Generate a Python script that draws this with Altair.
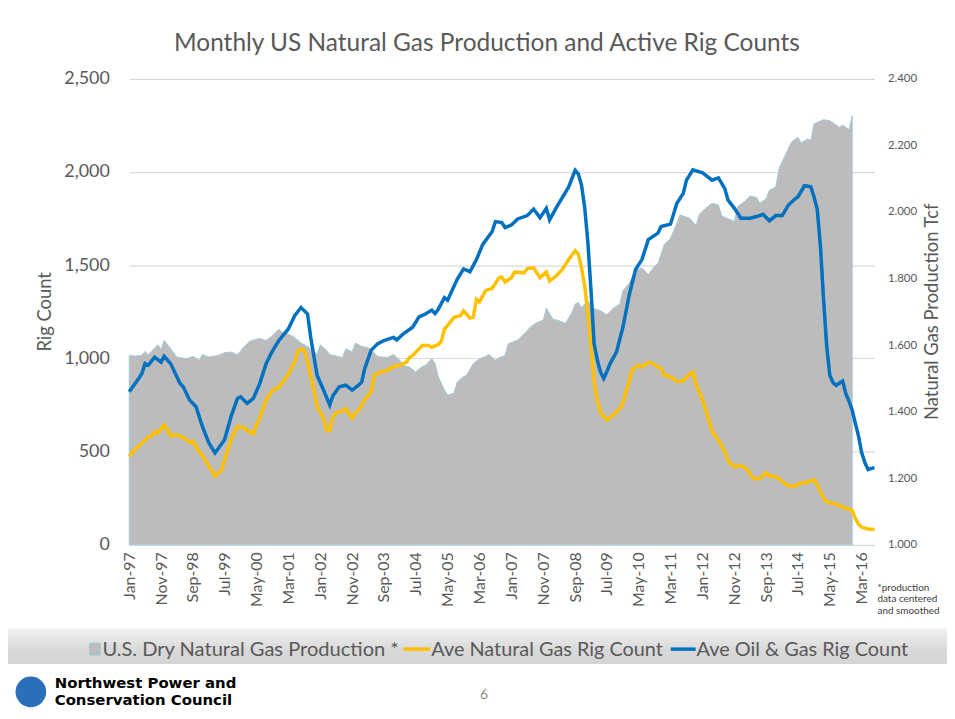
import altair as alt
import pandas as pd

TITLE = "Monthly US Natural Gas Production and Active Rig Counts"
SERIES = ["U.S. Dry Natural Gas Production *", "Ave Natural Gas Rig Count", "Ave Oil & Gas Rig Count"]
FOOTNOTE = ["*production", "data centered", "and smoothed"]
LEFT_TITLE = "Rig Count"
RIGHT_TITLE = "Natural Gas Production Tcf"
LOGO_LINES = ["Northwest Power and", "Conservation Council"]
PAGE_NO = "6"

# month index: 0 = Jan-1997
OG_MONTHS = [0, 3, 4, 5, 6, 8, 10, 11, 13, 16, 17, 19, 21, 23, 25, 27, 30, 32, 34, 35, 37, 39, 41, 43, 45, 47,
             50, 52, 54, 56, 57, 59, 61, 63, 64, 66, 68, 70, 72, 73, 74, 76, 78, 80, 83, 84, 86, 89, 91, 93, 95,
             96, 97, 99, 100, 103, 105, 107, 109, 111, 114, 115, 117, 118, 120, 122, 125, 127, 129, 131, 132,
             134, 138, 140, 141, 142, 143, 144, 145, 146, 147, 148, 149, 150, 151, 153, 155, 157, 159, 161, 163,
             166, 167, 170, 172, 174, 175, 177, 180, 183, 185, 187, 188, 190, 192, 195, 197, 199, 201, 203, 205,
             207, 209, 210, 212, 214, 215, 216, 217, 218, 219, 220, 221, 222, 224, 225, 226, 227, 228, 229, 230,
             231, 232, 233, 234]
OG_RIGS = [821, 892, 918, 972, 963, 1007, 980, 1011, 972, 865, 848, 777, 741, 635, 546, 493, 564, 688, 785, 794,
           759, 785, 865, 972, 1040, 1096, 1158, 1229, 1273, 1238, 1113, 910, 830, 750, 800, 848, 856, 830, 856,
           874, 945, 1043, 1078, 1096, 1113, 1099, 1131, 1167, 1223, 1238, 1259, 1241, 1264, 1326, 1312, 1424,
           1480, 1465, 1530, 1610, 1681, 1734, 1729, 1702, 1716, 1748, 1766, 1801, 1755, 1805, 1743, 1805, 1920,
           2009, 1990, 1929, 1810, 1620, 1350, 1080, 990, 927, 892, 930, 972, 1034, 1167, 1344, 1477, 1530, 1637,
           1672, 1707, 1720, 1832, 1885, 1956, 2012, 1996, 1956, 1968, 1911, 1849, 1805, 1752, 1752, 1761, 1773,
           1738, 1766, 1766, 1823, 1855, 1867, 1926, 1920, 1867, 1800, 1600, 1330, 1070, 910, 870, 856, 879, 810,
           770, 723, 650, 580, 493, 440, 404, 410, 413]

GAS_MONTHS = [0, 2, 4, 6, 7, 8, 9, 11, 13, 15, 17, 19, 20, 22, 23, 25, 27, 29, 31, 32, 34, 36, 37, 39, 40, 41, 43,
              45, 47, 49, 50, 52, 53, 54, 55, 56, 58, 59, 61, 62, 63, 64, 65, 67, 68, 70, 71, 72, 74, 76, 77, 79,
              81, 83, 85, 87, 88, 89, 91, 92, 94, 95, 97, 98, 99, 100, 102, 104, 105, 107, 108, 109, 110, 112, 114,
              116, 117, 118, 120, 121, 124, 125, 127, 129, 131, 132, 134, 136, 138, 140, 141, 142, 143, 144, 145,
              146, 147, 148, 149, 150, 152, 154, 155, 157, 158, 160, 161, 163, 165, 167, 168, 170, 172, 174, 175,
              177, 178, 180, 182, 183, 185, 187, 188, 190, 192, 194, 196, 198, 200, 201, 203, 205, 207, 209, 211,
              213, 215, 216, 218, 219, 222, 225, 227, 228, 229, 230, 232, 234]
GAS_RIGS = [475, 514, 543, 578, 582, 608, 599, 644, 585, 590, 576, 550, 555, 496, 479, 422, 369, 400, 510, 564, 635,
            629, 613, 596, 644, 679, 777, 830, 845, 892, 915, 980, 1040, 1051, 1043, 980, 830, 741, 680, 617, 612,
            688, 706, 720, 729, 679, 709, 720, 777, 820, 910, 927, 936, 957, 963, 980, 1004, 1016, 1051, 1069, 1069,
            1060, 1075, 1090, 1158, 1176, 1220, 1229, 1255, 1216, 1220, 1317, 1303, 1365, 1376, 1430, 1436, 1410,
            1433, 1463, 1459, 1482, 1486, 1433, 1463, 1415, 1441, 1477, 1530, 1578, 1560, 1486, 1390, 1240, 1060,
            870, 770, 710, 688, 670, 697, 732, 759, 883, 940, 963, 954, 980, 966, 945, 910, 901, 878, 879, 901, 927,
            860, 777, 670, 608, 560, 500, 449, 418, 426, 404, 355, 355, 387, 369, 365, 340, 316, 316, 330, 337, 348,
            320, 254, 230, 218, 195, 186, 140, 110, 94, 85, 82]

PROD_MONTHS = [0, 2, 4, 5, 6, 9, 10, 11, 13, 15, 18, 20, 22, 23, 25, 28, 30, 32, 34, 36, 38, 41, 43, 45, 47, 48,
               50, 52, 54, 56, 58, 59, 60, 62, 63, 65, 67, 68, 70, 71, 73, 75, 76, 78, 81, 83, 85, 86, 88, 90, 92,
               93, 95, 96, 97, 99, 100, 102, 103, 105, 106, 108, 110, 112, 113, 115, 116, 118, 119, 122, 124, 126,
               128, 130, 131, 133, 135, 137, 139, 140, 141, 142, 144, 145, 148, 150, 152, 154, 155, 157, 159, 161,
               163, 165, 166, 168, 170, 172, 173, 176, 178, 179, 181, 183, 185, 186, 187, 189, 190, 191, 193, 195,
               197, 198, 200, 201, 203, 204, 206, 208, 210, 211, 213, 214, 215, 218, 220, 222, 223, 224, 226, 227]
PROD_TCF = [1.569, 1.567, 1.569, 1.581, 1.571, 1.601, 1.586, 1.614, 1.589, 1.564, 1.559, 1.566, 1.554, 1.572, 1.564,
            1.569, 1.577, 1.579, 1.571, 1.594, 1.612, 1.620, 1.614, 1.628, 1.648, 1.638, 1.633, 1.623, 1.606, 1.596,
            1.580, 1.574, 1.601, 1.584, 1.572, 1.567, 1.562, 1.589, 1.579, 1.606, 1.596, 1.592, 1.586, 1.566, 1.562,
            1.572, 1.554, 1.539, 1.534, 1.519, 1.536, 1.539, 1.559, 1.544, 1.505, 1.465, 1.450, 1.455, 1.489, 1.505,
            1.510, 1.544, 1.559, 1.566, 1.572, 1.554, 1.562, 1.569, 1.604, 1.615, 1.633, 1.654, 1.668, 1.675, 1.711,
            1.678, 1.673, 1.665, 1.698, 1.723, 1.728, 1.713, 1.733, 1.713, 1.703, 1.691, 1.711, 1.723, 1.763, 1.787,
            1.824, 1.832, 1.812, 1.837, 1.844, 1.902, 1.921, 1.966, 1.991, 1.981, 1.959, 1.993, 2.011, 2.026, 2.021,
            1.989, 1.983, 1.976, 1.971, 2.016, 2.030, 2.048, 2.043, 2.026, 2.040, 2.065, 2.075, 2.130, 2.170, 2.210,
            2.224, 2.207, 2.219, 2.215, 2.264, 2.277, 2.274, 2.261, 2.254, 2.261, 2.247, 2.289]

TICK_MONTHS = list(range(0, 231, 10))  # Jan-97, Nov-97, ... Mar-16
RIG_TICKS = [0, 500, 1000, 1500, 2000, 2500]
TCF_TICKS = [1.0, 1.2, 1.4, 1.6, 1.8, 2.0, 2.2, 2.4]


def month_date(m):
    return f"{1997 + m // 12}-{m % 12 + 1:02d}-01T00:00:00"


def month_dt(m):
    return alt.DateTime(year=1997 + m // 12, month=m % 12 + 1, date=1)


prod_df = pd.DataFrame({"date": [month_date(m) for m in PROD_MONTHS], "tcf": PROD_TCF})
rig_df = pd.concat([
    pd.DataFrame({"date": [month_date(m) for m in GAS_MONTHS], "rigs": GAS_RIGS, "series": SERIES[1]}),
    pd.DataFrame({"date": [month_date(m) for m in OG_MONTHS], "rigs": OG_RIGS, "series": SERIES[2]}),
])
one = pd.DataFrame({"k": [0]})

FONT = "Lato"
TXT = "#595959"
GREY = "#bcbcbc"
EDGE = "#9fcbd8"
YELLOW = "#ffc000"
BLUE = "#0070c0"

x_enc = alt.X(
    "date:T",
    title=None,
    scale=alt.Scale(domain=[month_dt(0), month_dt(234)]),
    axis=alt.Axis(values=[month_dt(m) for m in TICK_MONTHS], format="%b-%y", labelAngle=270,
                  labelFont=FONT, labelFontSize=16, labelColor=TXT, labelPadding=7,
                  ticks=False, domain=False, grid=False, labelOverlap=False),
)

area = alt.Chart(prod_df).mark_area(fill=GREY, stroke=EDGE, strokeWidth=1, fillOpacity=1).encode(
    x=x_enc,
    y=alt.Y("tcf:Q", scale=alt.Scale(domain=[1.0, 2.4], zero=False, nice=False),
            axis=alt.Axis(orient="right", values=TCF_TICKS, format=".3f", grid=False, ticks=False, domain=False,
                          labelFont=FONT, labelFontSize=11.5, labelColor=TXT, labelPadding=13,
                          title=RIGHT_TITLE, titleAngle=270, titleFont=FONT, titleFontSize=18.5,
                          titleFontWeight="normal", titleColor=TXT, titleX=57, titleY=234,
                          titleAlign="center", titleBaseline="middle")),
    y2=alt.datum(1.0),
)

lines = alt.Chart(rig_df).mark_line(strokeWidth=3.5).encode(
    x=x_enc,
    y=alt.Y("rigs:Q", scale=alt.Scale(domain=[0, 2500], nice=False),
            axis=alt.Axis(orient="left", values=RIG_TICKS, format=",d", grid=True, gridColor="#d9d9d9",
                          gridWidth=1.2, ticks=False, domain=False, labelFont=FONT, labelFontSize=18,
                          labelColor=TXT, labelPadding=20, title=LEFT_TITLE, titleFont=FONT, titleFontSize=18.5,
                          titleFontWeight="normal", titleColor=TXT, titleX=-85, titleY=234,
                          titleAlign="center", titleBaseline="middle", titleAngle=270)),
    color=alt.Color("series:N", scale=alt.Scale(domain=SERIES[1:], range=[YELLOW, BLUE]), legend=None),
)

title = alt.Chart(one).mark_text(font=FONT, fontSize=24.6, color=TXT, align="center", baseline="middle").encode(
    x=alt.value(360), y=alt.value(-35), text=alt.value(TITLE))

foot = alt.Chart(one).mark_text(font=FONT, fontSize=10, color="#404040", align="left", baseline="middle",
                                lineHeight=12).encode(x=alt.value(753), y=alt.value(512), text=alt.value(FOOTNOTE))

band = alt.Chart(one).mark_rect(
    fill=alt.Gradient(gradient="linear", x1=0, x2=0, y1=0, y2=1,
                      stops=[alt.GradientStop(color="#f2f2f2", offset=0),
                             alt.GradientStop(color="#d9d9d9", offset=0.6),
                             alt.GradientStop(color="#d4d4d4", offset=1)])
).encode(x=alt.value(-122), x2=alt.value(823), y=alt.value(553), y2=alt.value(589))

leg_sq = alt.Chart(one).mark_rect(fill=GREY, stroke=EDGE, strokeWidth=1).encode(
    x=alt.value(-40), x2=alt.value(-29), y=alt.value(568), y2=alt.value(580))
leg_y = alt.Chart(one).mark_rule(color=YELLOW, strokeWidth=3.5).encode(
    x=alt.value(276), x2=alt.value(303), y=alt.value(574))
leg_b = alt.Chart(one).mark_rule(color=BLUE, strokeWidth=3.5).encode(
    x=alt.value(545), x2=alt.value(570), y=alt.value(574))
leg_t1 = alt.Chart(one).mark_text(font=FONT, fontSize=20.2, color=TXT, align="left", baseline="middle").encode(
    x=alt.value(-27), y=alt.value(575), text=alt.value(SERIES[0]))
leg_t2 = alt.Chart(one).mark_text(font=FONT, fontSize=20, color=TXT, align="left", baseline="middle").encode(
    x=alt.value(304), y=alt.value(575), text=alt.value(SERIES[1]))
leg_t3 = alt.Chart(one).mark_text(font=FONT, fontSize=20, color=TXT, align="left", baseline="middle").encode(
    x=alt.value(571), y=alt.value(575), text=alt.value(SERIES[2]))

page = alt.Chart(one).mark_text(font=FONT, fontSize=14, color="#8c8c8c", align="center", baseline="middle").encode(
    x=alt.value(357), y=alt.value(620), text=alt.value(PAGE_NO))
logo_c = alt.Chart(one).mark_point(shape="circle", filled=True, fill="#2a6fb9", opacity=1, size=950,
                                   strokeWidth=0).encode(x=alt.value(-99), y=alt.value(617))
logo_t1 = alt.Chart(one).mark_text(font="DejaVu Sans", fontWeight="bold", fontSize=15, color="#000000",
                                   align="left", baseline="middle").encode(
    x=alt.value(-75), y=alt.value(608), text=alt.value(LOGO_LINES[0]))
logo_t2 = alt.Chart(one).mark_text(font="DejaVu Sans", fontWeight="bold", fontSize=15, color="#000000",
                                   align="left", baseline="middle").encode(
    x=alt.value(-75), y=alt.value(625), text=alt.value(LOGO_LINES[1]))

chart = alt.layer(
    area, lines, band, leg_sq, leg_y, leg_b, leg_t1, leg_t2, leg_t3, title, foot, page, logo_c, logo_t1, logo_t2
).resolve_scale(y="independent").properties(
    width=750, height=469,
    padding={"left": 122, "top": 69, "right": 73, "bottom": 162},
    autosize=alt.AutoSizeParams(type="none"),
    background="white",
).configure_view(stroke=None)

chart.save("out.html", embed_options={"renderer": "svg", "actions": False})
